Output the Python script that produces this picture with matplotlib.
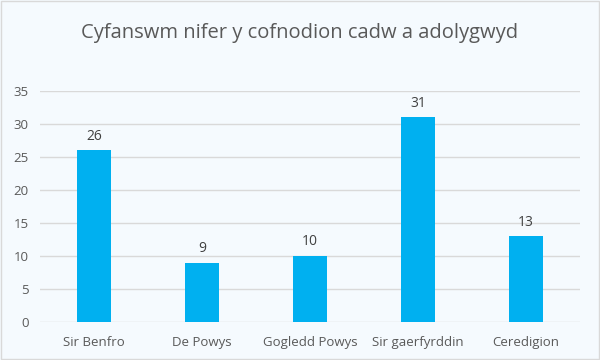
import matplotlib.pyplot as plt
from matplotlib.patches import Rectangle

plt.rcParams['font.family'] = ['Open Sans', 'DejaVu Sans']

areas = ['Sir Benfro', 'De Powys', 'Gogledd Powys', 'Sir gaerfyrddin', 'Ceredigion']
counts = [26, 9, 10, 31, 13]
yticks = [0, 5, 10, 15, 20, 25, 30, 35]

bg = '#F5FAFE'
txt = '#595959'

fig = plt.figure(figsize=(6, 3.6), dpi=100, facecolor=bg)
ax = fig.add_axes([40/600, 1 - 322/360, 540/600, 231/360], facecolor=bg)

x = range(len(areas))
bars = ax.bar(x, counts, width=0.31, color='#00B0F0', zorder=3)
for b, v in zip(bars, counts):
    ax.text(b.get_x() + b.get_width()/2, v + 1.0, str(v), ha='center', va='bottom',
            fontsize=10, color='#404040')

ax.set_xlim(-0.5, len(areas) - 0.5)
ax.set_ylim(0, 35)
ax.set_yticks(yticks)
ax.set_xticks(list(x))
ax.set_xticklabels(areas)
ax.tick_params(axis='both', length=0, labelsize=9.5, colors=txt)
ax.tick_params(axis='x', pad=10)
ax.tick_params(axis='y', pad=8)
ax.grid(axis='y', color='#D9D9D9', linewidth=1, zorder=0)
for s in ax.spines.values():
    s.set_visible(False)

fig.text(0.5, 1 - 33/360, 'Cyfanswm nifer y cofnodion cadw a adolygwyd', ha='center', va='center',
         fontsize=14.5, color=txt)

fig.patches.append(Rectangle((0.001, 0.002), 0.997, 0.995, transform=fig.transFigure,
                             fill=False, edgecolor='#D9D9D9', linewidth=1))

fig.savefig('out.png', dpi=100, facecolor=bg)
